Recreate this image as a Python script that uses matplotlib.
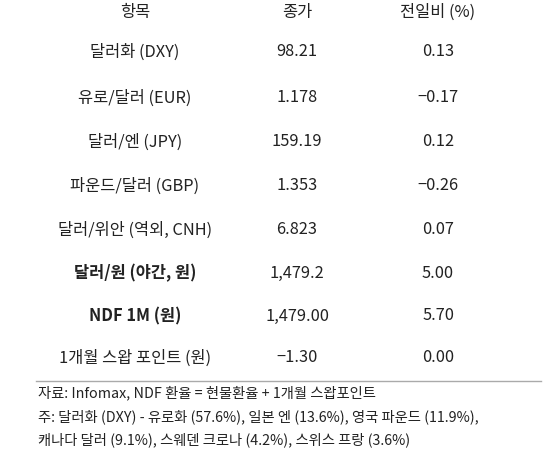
import matplotlib
matplotlib.use("Agg")
import matplotlib.pyplot as plt

plt.rcParams['font.family'] = ['Noto Sans CJK KR', 'DejaVu Sans']

headers = ["항목", "종가", "전일비 (%)"]
items = ["달러화 (DXY)", "유로/달러 (EUR)", "달러/엔 (JPY)", "파운드/달러 (GBP)",
         "달러/위안 (역외, CNH)", "달러/원 (야간, 원)", "NDF 1M (원)", "1개월 스왑 포인트 (원)"]
closes = ["98.21", "1.178", "159.19", "1.353", "6.823", "1,479.2", "1,479.00", "-1.30"]
changes = ["0.13", "-0.17", "0.12", "-0.26", "0.07", "5.00", "5.70", "0.00"]
bold_rows = [5, 6]
notes = ["자료: Infomax, NDF 환율 = 현물환율 + 1개월 스왑포인트",
         "주: 달러화 (DXY) - 유로화 (57.6%), 일본 엔 (13.6%), 영국 파운드 (11.9%),",
         "캐나다 달러 (9.1%), 스웨덴 크로나 (4.2%), 스위스 프랑 (3.6%)"]

W, H = 550, 462
fig = plt.figure(figsize=(W/100, H/100), dpi=100)
fig.patch.set_facecolor('white')

def px(x, y):
    return x / W, 1 - y / H

cols = [135, 297, 438]
col = '#222222'
fs = 11.8
for c, h in zip(cols, headers):
    fig.text(*px(c, 12), h, ha='center', va='center', fontsize=fs, color=col)

row_y = [52, 98, 142, 186, 230, 273, 316, 358]
for i, y in enumerate(row_y):
    for j, (c, t) in enumerate(zip(cols, [items[i], closes[i], changes[i]])):
        w = 'bold' if (i in bold_rows and j == 0) else 'normal'
        fig.text(*px(c, y), t.replace('-', '\u2212'), ha='center', va='center',
                 fontsize=fs, color=col, fontweight=w)

x0, y0 = px(36, 381)
x1, _ = px(541, 381)
fig.add_artist(plt.Line2D([x0, x1], [y0, y0], color='#aaaaaa', lw=1))

for i, n in enumerate(notes):
    fig.text(*px(38, 393 + 23.5 * i), n, ha='left', va='center', fontsize=10.3, color=col)

fig.savefig('out.png', dpi=100)
